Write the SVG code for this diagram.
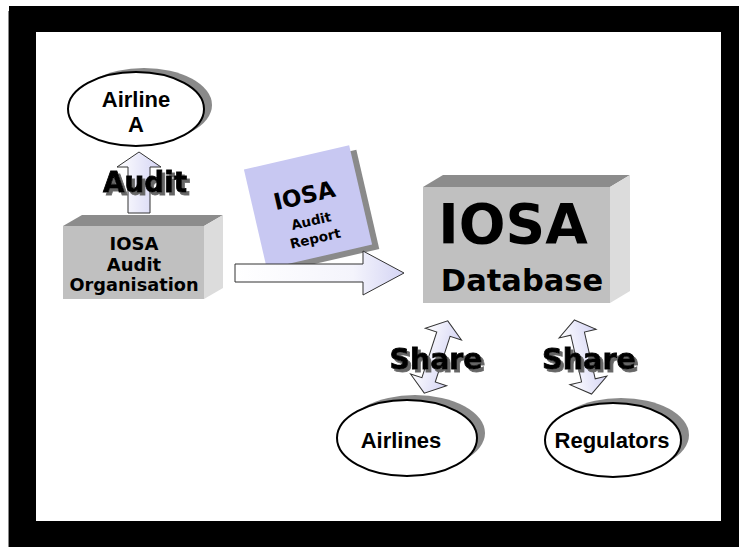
<svg xmlns="http://www.w3.org/2000/svg" width="739" height="547" viewBox="0 0 739 547">
<style>
.lbl{font-family:"DejaVu Sans","Liberation Sans",sans-serif;font-weight:bold;fill:#000;text-anchor:middle}
.ell{font-family:"Liberation Sans",Arial,sans-serif;font-weight:bold;fill:#000;text-anchor:middle;font-size:22px}
.big{font-family:"DejaVu Sans","Liberation Sans",sans-serif;font-weight:bold;text-anchor:middle;font-size:28px;fill:#000;stroke:#000;stroke-width:0.8;filter:url(#ds)}
.front{fill:#c0c0c0}
.top{fill:#8c8c8c}
.side{fill:#dcdcdc}
.arrow{fill:url(#ag);stroke:#333;stroke-width:1}
.oval{fill:#fff;stroke:#000;stroke-width:2}
.shadow{fill:#8a8a8a}
</style>
<defs>
<linearGradient id="ag" x1="0" y1="0" x2="1" y2="0">
<stop offset="0" stop-color="#ffffff"/>
<stop offset="1" stop-color="#d4d4f4"/>
</linearGradient>
<linearGradient id="ag2" x1="0" y1="0" x2="1" y2="0">
<stop offset="0" stop-color="#ffffff"/>
<stop offset="0.7" stop-color="#f4f4fc"/>
<stop offset="1" stop-color="#d4d4f4"/>
</linearGradient>
<filter id="ds" x="-10%" y="-20%" width="130%" height="150%">
<feOffset in="SourceAlpha" dx="2.5" dy="2.5" result="o"/>
<feFlood flood-color="#666"/>
<feComposite in2="o" operator="in" result="s"/>
<feMerge><feMergeNode in="s"/><feMergeNode in="SourceGraphic"/></feMerge>
</filter>
</defs>
<rect x="9" y="6" width="730" height="541" fill="#000"/>
<rect x="36" y="32" width="685" height="489" fill="#fff"/>
<line x1="8.5" y1="11" x2="8.5" y2="547" stroke="#888" stroke-width="1"/>

<g id="airline-a">
<ellipse class="shadow" cx="144" cy="105" rx="68" ry="37"/>
<ellipse class="oval" cx="136" cy="109" rx="68" ry="37"/>
<text class="ell" x="136" y="107">Airline</text>
<text class="ell" x="136" y="132">A</text>
</g>

<g id="audit-org">
<polygon class="top" points="63,226 82,215 223,215 204,226"/>
<polygon class="side" points="204,226 223,215 223,288 204,299"/>
<rect class="front" x="63" y="226" width="141" height="73"/>
<text class="lbl" x="134" y="250" font-size="18">IOSA</text>
<text class="lbl" x="134" y="271" font-size="18">Audit</text>
<text class="lbl" x="134" y="291" font-size="18" textLength="129" lengthAdjust="spacingAndGlyphs">Organisation</text>
</g>

<g id="audit-report" transform="translate(308,207) rotate(-13)">
<rect x="-48" y="-45" width="108" height="102" fill="#8a8a8a"/>
<rect x="-54" y="-51" width="108" height="102" fill="#c8c8f2"/>
<text class="lbl" x="-1" y="-4" font-size="23">IOSA</text>
<text class="lbl" x="0" y="19" font-size="13.5">Audit</text>
<text class="lbl" x="0" y="37" font-size="13.5">Report</text>
</g>

<g id="iosa-database">
<polygon class="top" points="423,187 443,175 630,175 610,187"/>
<polygon class="side" points="610,187 630,175 630,291 610,303"/>
<rect class="front" x="423" y="187" width="187" height="116"/>
<text class="lbl" x="513" y="243" font-size="55">IOSA</text>
<text class="lbl" x="522" y="291" font-size="30.5">Database</text>
</g>

<g id="airlines">
<ellipse class="shadow" cx="415" cy="433" rx="70" ry="38"/>
<ellipse class="oval" cx="407" cy="438" rx="70" ry="38"/>
<text class="ell" x="401" y="448">Airlines</text>
</g>

<g id="regulators">
<ellipse class="shadow" cx="621" cy="435" rx="68" ry="37"/>
<ellipse class="oval" cx="613" cy="440" rx="68" ry="37"/>
<text class="ell" x="612" y="448">Regulators</text>
</g>

<g id="connectors">
<polygon class="arrow" points="128,213 128,167 117,167 139,152 161,167 150,167 150,213"/>
<polygon class="arrow" style="fill:url(#ag2)" points="235,264 363,264 363,251 404,273 363,295 363,282 235,282"/>
<polygon class="arrow" transform="translate(436,357) rotate(18)" points="0,-38 19,-24 7,-24 7,24 19,24 0,38 -19,24 -7,24 -7,-24 -19,-24"/>
<polygon class="arrow" transform="translate(583,357) rotate(-13)" points="0,-38 19,-24 7,-24 7,24 19,24 0,38 -19,24 -7,24 -7,-24 -19,-24"/>
<text class="big" x="145" y="192" textLength="84" lengthAdjust="spacingAndGlyphs">Audit</text>
<text class="big" x="436" y="369" textLength="93" lengthAdjust="spacingAndGlyphs">Share</text>
<text class="big" x="589" y="369" textLength="94" lengthAdjust="spacingAndGlyphs">Share</text>
</g>
</svg>
